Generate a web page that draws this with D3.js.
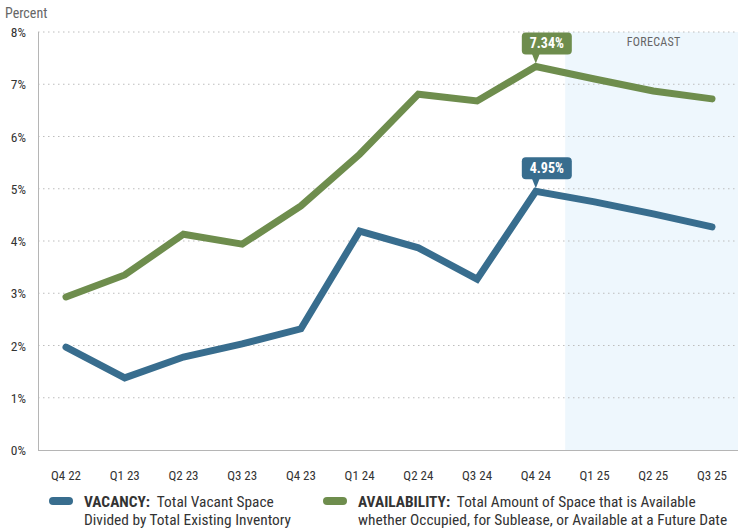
<!DOCTYPE html>
<html><head><meta charset="utf-8">
<script src="https://cdn.jsdelivr.net/npm/d3@7"></script>
<style>
body{margin:0;background:#fff;}
svg{display:block;font-family:"Liberation Sans Narrow","Arial Narrow","Roboto Condensed",sans-serif;}
</style></head>
<body>
<svg id="chart" width="738" height="531"></svg>
<script>
const categories = ["Q4 22","Q1 23","Q2 23","Q3 23","Q4 23","Q1 24","Q2 24","Q3 24","Q4 24","Q1 25","Q2 25","Q3 25"];
const vacancy = [1.97,1.38,1.78,2.03,2.32,4.19,3.87,3.27,4.95,4.75,4.52,4.27];
const availability = [2.93,3.35,4.13,3.94,4.67,5.66,6.81,6.68,7.34,7.10,6.87,6.72];
const yTicks = [0,1,2,3,4,5,6,7,8];
const forecastStart = "Q1 25";
const vacancyCallout = "4.95%";
const availabilityCallout = "7.34%";

(function(){
const blue = "#386d8e", green = "#6e8d4d";
const svg = d3.select("#chart");
const pl = 38, pr = 738, pt = 32, pb = 450;

const x = d3.scalePoint().domain(categories).range([66, 712]);
const y = d3.scaleLinear().domain([0, 8]).range([pb, pt]);

// forecast band
const fi = categories.indexOf(forecastStart);
const fx = (x(categories[fi - 1]) + x(categories[fi])) / 2;
svg.append("rect").attr("x", fx).attr("y", pt).attr("width", pr - fx).attr("height", pb - pt).attr("fill", "#eef7fd");
svg.append("text").attr("x", (fx + pr) / 2 + 2).attr("y", 46).attr("text-anchor", "middle")
  .attr("font-size", 12).attr("fill", "#666").attr("letter-spacing", 0.3).text("FORECAST");

// gridlines
svg.append("g").selectAll("line").data(yTicks.filter(d => d > 0)).join("line")
  .attr("x1", pl).attr("x2", pr).attr("y1", d => y(d)).attr("y2", d => y(d))
  .attr("stroke", "#bdbdbd").attr("stroke-width", 1).attr("stroke-dasharray", "1.5,3.5");

// axes lines
svg.append("line").attr("x1", pl + 0.5).attr("x2", pl + 0.5).attr("y1", pt).attr("y2", pb).attr("stroke", "#b5b5b5");
svg.append("line").attr("x1", pl).attr("x2", pr).attr("y1", pb + 0.5).attr("y2", pb + 0.5).attr("stroke", "#b5b5b5");

// y labels
svg.append("g").selectAll("text").data(yTicks).join("text")
  .attr("x", 26).attr("y", d => y(d) + 5).attr("text-anchor", "end")
  .attr("font-size", 13.5).attr("fill", "#333").text(d => d + "%");
svg.append("text").attr("x", 5).attr("y", 18).attr("font-size", 14).attr("fill", "#666").text("Percent");

// x labels
svg.append("g").selectAll("text").data(categories).join("text")
  .attr("x", d => x(d)).attr("y", 480).attr("text-anchor", "middle")
  .attr("font-size", 13).attr("fill", "#333").text(d => d);

// lines
const line = d3.line().x((d, i) => x(categories[i])).y(d => y(d));
[[availability, green], [vacancy, blue]].forEach(([data, col]) => {
  svg.append("path").datum(data).attr("d", line).attr("fill", "none")
    .attr("stroke", col).attr("stroke-width", 7).attr("stroke-linecap", "round").attr("stroke-linejoin", "miter");
});

// callouts
function callout(cat, val, label, col) {
  const px = x(cat), py = y(val);
  const bw = 50, bh = 22, bx = px - 14, by = py - 34, r = 4;
  const g = svg.append("g");
  g.append("rect").attr("x", bx).attr("y", by).attr("width", bw).attr("height", bh).attr("rx", r).attr("fill", col);
  g.append("path").attr("d", `M${px - 4},${by + bh - 1} L${px},${py - 3} L${px + 4},${by + bh - 1} Z`).attr("fill", col);
  g.append("text").attr("x", bx + bw / 2).attr("y", by + 16).attr("text-anchor", "middle")
    .attr("font-size", 14).attr("font-weight", "bold").attr("fill", "#fff").text(label);
}
callout("Q4 24", availability[categories.indexOf("Q4 24")], availabilityCallout, green);
callout("Q4 24", vacancy[categories.indexOf("Q4 24")], vacancyCallout, blue);

// legend
const legend = [
  {col: blue, x: 49, tx: 84, bold: "VACANCY:", l1: "Total Vacant Space", l2: "Divided by Total Existing Inventory"},
  {col: green, x: 323, tx: 358, bold: "AVAILABILITY:", l1: "Total Amount of Space that is Available", l2: "whether Occupied, for Sublease, or Available at a Future Date"}
];
legend.forEach(d => {
  svg.append("rect").attr("x", d.x).attr("y", 497).attr("width", 24).attr("height", 8).attr("rx", 4).attr("fill", d.col);
  const t = svg.append("text").attr("x", d.tx).attr("y", 507).attr("font-size", 15.4).attr("fill", "#333");
  t.append("tspan").attr("font-weight", "bold").text(d.bold);
  t.append("tspan").text("\u00a0 " + d.l1);
  svg.append("text").attr("x", d.tx).attr("y", 525).attr("font-size", 15.4).attr("fill", "#333").text(d.l2);
});
})();
</script>
</body></html>
